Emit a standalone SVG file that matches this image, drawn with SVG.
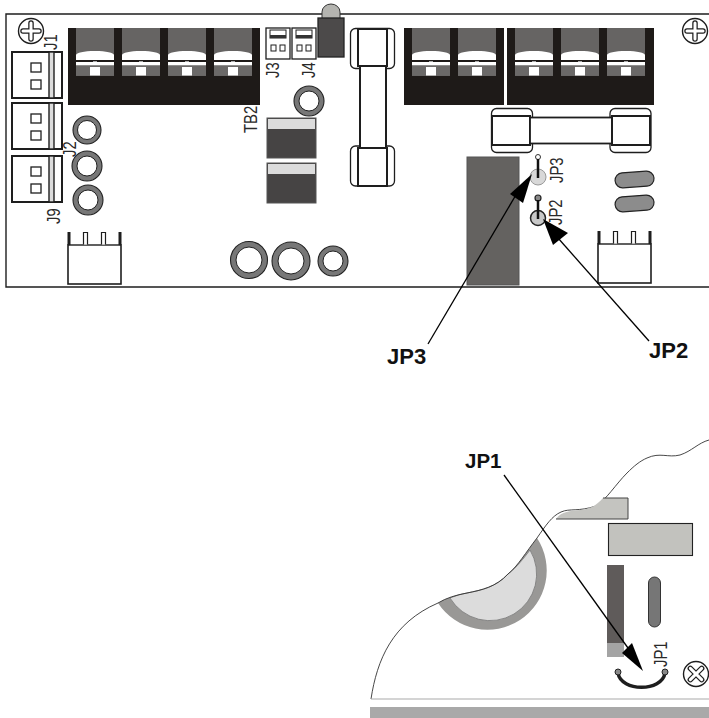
<svg xmlns="http://www.w3.org/2000/svg" xmlns:xlink="http://www.w3.org/1999/xlink" width="709" height="718" viewBox="0 0 709 718">
<style>
text{font-family:"Liberation Sans",Arial,sans-serif;fill:#2a2a2a}
.lab{font-size:17.500px}
.call{font-size:22px;font-weight:bold;fill:#111}
.blk{fill:#1e1a18}
.ro{fill:#777;stroke:#222;stroke-width:1.100}
.ri{fill:#fff;stroke:#222;stroke-width:1}
.edge{fill:none;stroke:#1e1e1e;stroke-width:1.400}
.o{fill:#fff;stroke:#1e1e1e;stroke-width:1.300}
.thick{fill:#fff;stroke:#1e1e1e;stroke-width:2}
.lead{stroke:#000;stroke-width:1.300;fill:none}
.head{fill:#000}
.cap{fill:#464444;stroke:#555}
</style>
<defs>
<g id="term">
<rect x="0" y="0" width="38" height="48" fill="#666463"/>
<path d="M0,32 V27 C0,25 8,23 19,23 C30,23 38,25 38,27 V32Z" fill="#fff"/>
<rect x="0" y="32" width="38" height="2" fill="#1e1a18"/>
<rect x="0" y="34" width="38" height="3.500" fill="#fff"/>
<rect x="0" y="37.500" width="38" height="10" fill="#6b6968"/>
<rect x="14" y="39" width="10" height="8.500" fill="#fff"/>
<rect x="17" y="33" width="4" height="1" fill="#aaa"/>
</g>
<g id="plug">
<rect x="0" y="0" width="50" height="46" class="thick"/>
<rect x="37" y="0" width="5" height="46" fill="#dcdcdc" stroke="#1e1e1e" stroke-width="1.400"/>
<rect x="19" y="11" width="10" height="9" class="o"/>
<rect x="19" y="28" width="10" height="9" class="o"/>
</g>
<g id="hdr">
<rect x="0.500" y="13" width="53" height="39" fill="#fff" stroke="#1e1e1e" stroke-width="1.600"/>
<path d="M16,13 V0.500 H20 V13 M34,13 V0.500 H38 V13" fill="#fff" stroke="#1e1e1e" stroke-width="1.200"/>
<path d="M2,13 H52" stroke="#777" stroke-width="1.200"/>
<rect x="0" y="0" width="3" height="13" fill="#1e1e1e"/>
<rect x="51" y="0" width="3" height="13" fill="#1e1e1e"/>
</g>
<g id="smallconn">
<rect x="0" y="0" width="24" height="31" class="o"/>
<rect x="4" y="2" width="16" height="8" fill="#fff" stroke="#1e1e1e"/>
<rect x="4" y="7" width="16" height="3" fill="#333"/>
<rect x="5" y="17" width="5" height="6" fill="#fff" stroke="#1e1e1e"/>
<rect x="14" y="17" width="5" height="6" fill="#fff" stroke="#1e1e1e"/>
</g>
<g id="crossScrew">
<circle r="12.500" fill="#fff" stroke="#1e1e1e" stroke-width="1.400"/>
<path d="M-8,0 H8 M0,-8 V8" stroke="#1e1e1e" stroke-width="5.500" stroke-linecap="round"/>
<path d="M-8,0 H8 M0,-8 V8" stroke="#fff" stroke-width="3" stroke-linecap="round"/>
</g>
</defs>
<rect width="709" height="718" fill="#fff"/>

<g id="board">
<path d="M709,14 H6 V287 H709" class="edge"/>
</g>
<g id="screw-tl"><use xlink:href="#crossScrew" x="31" y="31"/></g>
<g id="screw-tr"><use xlink:href="#crossScrew" x="695" y="31"/></g>

<g id="TB1">
<rect x="68" y="28" width="192" height="77" class="blk"/>
<use xlink:href="#term" x="76" y="28"/><use xlink:href="#term" x="122" y="28"/><use xlink:href="#term" x="168" y="28"/><use xlink:href="#term" x="214" y="28"/>
</g>
<g id="TB2-block">
<rect x="404" y="28" width="100" height="77" class="blk"/>
<use xlink:href="#term" x="412" y="28"/><use xlink:href="#term" x="458" y="28"/>
</g>
<g id="TB3-block">
<rect x="507" y="28" width="147" height="77" class="blk"/>
<use xlink:href="#term" x="515" y="28"/><use xlink:href="#term" x="561" y="28"/><use xlink:href="#term" x="607" y="28"/>
</g>

<g id="J1"><text class="lab" transform="translate(57,50) rotate(-90) scale(.85,1)">J1</text><use xlink:href="#plug" x="12" y="52"/></g>
<g id="J2-plug"><use xlink:href="#plug" x="12" y="103"/></g>
<g id="J9"><use xlink:href="#plug" x="12" y="156"/><text class="lab" transform="translate(60,224) rotate(-90) scale(.85,1)">J9</text></g>
<g id="J2"><text class="lab" transform="translate(76,157) rotate(-90) scale(.85,1)">J2</text>
<circle cx="87" cy="130" r="14" class="ro"/><circle cx="87" cy="130" r="9.500" class="ri"/>
<circle cx="87" cy="166" r="15" class="ro"/><circle cx="87" cy="166" r="10" class="ri"/>
<circle cx="88" cy="200" r="15" class="ro"/><circle cx="88" cy="200" r="10" class="ri"/></g>

<g id="hdr-left"><use xlink:href="#hdr" x="67.500" y="232"/></g>
<g id="hdr-right"><use xlink:href="#hdr" x="597.500" y="231"/></g>

<g id="J3"><use xlink:href="#smallconn" x="266" y="28"/><text class="lab" transform="translate(279,78) rotate(-90) scale(.85,1)">J3</text></g>
<g id="J4"><use xlink:href="#smallconn" x="292" y="28"/><text class="lab" transform="translate(315,78) rotate(-90) scale(.85,1)">J4</text></g>
<g id="TB2-label"><text class="lab" transform="translate(257,133) rotate(-90) scale(.85,1)">TB2</text></g>

<g id="LED">
<path d="M322,20 V12 A9,8 0 0 1 340,12 V20Z" fill="#b4b4b0" stroke="#333"/>
<rect x="318" y="18" width="26" height="39" fill="#4c4a4a" stroke="#222" stroke-width="1.300"/>
</g>
<g id="ring-top"><circle cx="309" cy="101" r="15" class="ro"/><circle cx="309" cy="101" r="10" class="ri"/></g>
<g id="cap1"><rect x="267" y="118" width="49" height="40" class="cap"/><rect x="268" y="119" width="47" height="10" fill="#dcdcdc"/></g>
<g id="cap2"><rect x="267" y="163" width="49" height="40" class="cap"/><rect x="268" y="164" width="47" height="10" fill="#dcdcdc"/></g>

<g id="fuse-v">
<rect x="350.500" y="28.500" width="44" height="40" rx="5" class="o"/>
<rect x="350.500" y="146" width="44" height="40" rx="5" class="o"/>
<rect x="358" y="29" width="29" height="37" fill="#fff" stroke="#1e1e1e" stroke-width="2"/>
<rect x="360" y="66" width="26" height="82" fill="#fff" stroke="#1e1e1e" stroke-width="2"/>
<rect x="358" y="148" width="29" height="38" fill="#fff" stroke="#1e1e1e" stroke-width="2"/>
</g>
<g id="fuse-h">
<rect x="491.500" y="108.500" width="41" height="44" rx="5" class="o"/>
<rect x="610" y="108.500" width="41" height="44" rx="5" class="o"/>
<rect x="492" y="116" width="38" height="29" fill="#fff" stroke="#1e1e1e" stroke-width="2"/>
<rect x="530" y="117.500" width="82" height="26" fill="#fff" stroke="#1e1e1e" stroke-width="1.800"/>
<rect x="612" y="116" width="38" height="29" fill="#fff" stroke="#1e1e1e" stroke-width="2"/>
</g>

<g id="relay"><rect x="467" y="157" width="52" height="128" fill="#646260" stroke="#555"/></g>

<g id="JP3">
<circle cx="538" cy="177" r="8" fill="#d8d8d8" stroke="#999" stroke-width="1"/>
<circle cx="538" cy="157" r="2.500" fill="#fff" stroke="#333"/>
<path d="M538,159 V178" stroke="#111" stroke-width="2.500"/>
<text class="lab" transform="translate(563,183) rotate(-90) scale(.85,1)">JP3</text>
</g>
<g id="JP2">
<circle cx="538" cy="218" r="7.500" fill="#c8c8c8" stroke="#222" stroke-width="1.500"/>
<circle cx="538" cy="198" r="3" fill="#888" stroke="#222" stroke-width="1.200"/>
<path d="M538,200 V219" stroke="#111" stroke-width="2.500"/>
<text class="lab" transform="translate(562,225) rotate(-90) scale(.85,1)">JP2</text>
</g>
<g id="slots">
<rect x="615" y="172" width="39" height="15" rx="7.500" transform="rotate(-4 634 179)" fill="#8c8c8c" stroke="#222" stroke-width="1.200"/>
<rect x="615" y="196" width="39" height="15" rx="7.500" transform="rotate(-4 634 203)" fill="#8c8c8c" stroke="#222" stroke-width="1.200"/>
</g>

<g id="rings-bottom">
<circle cx="249" cy="260" r="18.500" class="ro"/><circle cx="249" cy="260" r="13" class="ri"/>
<circle cx="291" cy="261" r="19" class="ro"/><circle cx="291" cy="261" r="13" class="ri"/>
<circle cx="333" cy="261" r="15" class="ro"/><circle cx="333" cy="261" r="10" class="ri"/>
</g>

<g id="enclosure">
<path d="M438,603 A58,58 0 1 0 537,538 C526,552 518,566 508,574 C496,587 482,590 467,593 C456,595 446,598 438,603Z" fill="#999896"/>
<path d="M450,598 A46,46 0 0 0 530,550 C524,558 516,568 508,574 C496,587 482,590 467,593 C461,594 455,596 450,598Z" fill="#dcdcdc" stroke="#777" stroke-width="0.800"/>
<path d="M371,699 C377,660 392,623 438,603 C446,598 456,595 467,593 C482,590 496,587 508,574 C518,566 526,552 537,538 C546,525 552,516 561,512 C570,508 578,512 596,506 C606,500 616,484 627,473 C634,466 640,461 647,458 C660,452 668,458 680,455 C692,451 698,443 709,440" fill="none" stroke="#333" stroke-width="0.900"/>
<path d="M371,699 H709" stroke="#aaa" stroke-width="1.200"/>
<rect x="370" y="707" width="339" height="11" fill="#a9a9a9"/>
<path d="M556,519 C562,511 570,511 580,510 C590,509 596,506 603,498 H628 V519Z" fill="#c4c4c0"/>
<path d="M603,498 H628 V519 H556" fill="none" stroke="#444" stroke-width="1"/>
<rect x="608.500" y="523.500" width="84" height="32" fill="#c2c2be" stroke="#222" stroke-width="1.100"/>
<rect x="607" y="565" width="17" height="92" fill="#5f5b5a"/>
<rect x="607" y="643" width="17" height="14" fill="#a4a4a4"/>
<rect x="648.500" y="577" width="12" height="50" rx="6" fill="#767676" stroke="#333"/>
</g>
<g id="JP1">
<path d="M618,673 C621,692 662,692 665,673" fill="none" stroke="#1e1e1e" stroke-width="3.500"/>
<circle cx="618" cy="672" r="3" fill="#888" stroke="#222"/>
<circle cx="665" cy="672" r="3" fill="#888" stroke="#222"/>
<text class="lab" transform="translate(667,667) rotate(-90) scale(.85,1)">JP1</text>
</g>
<g id="screw-x"><use xlink:href="#crossScrew" transform="translate(696,674) rotate(45)"/></g>

<g id="connectors">
<path class="lead" d="M428,344 L520,188"/>
<path class="head" d="M532,174 L510,194 L523,203Z"/>
<path class="lead" d="M649,341 L558,238"/>
<path class="head" d="M543,219 L553,245 L568,233Z"/>
<path class="lead" d="M504,475 L628,648"/>
<path class="head" d="M643,671 L622,653 L632,643Z"/>
</g>
<g id="labels">
<text class="call" x="387" y="364">JP3</text>
<text class="call" x="649" y="358">JP2</text>
<text class="call" x="465" y="468" style="font-size:20.500px">JP1</text>
</g>
</svg>
